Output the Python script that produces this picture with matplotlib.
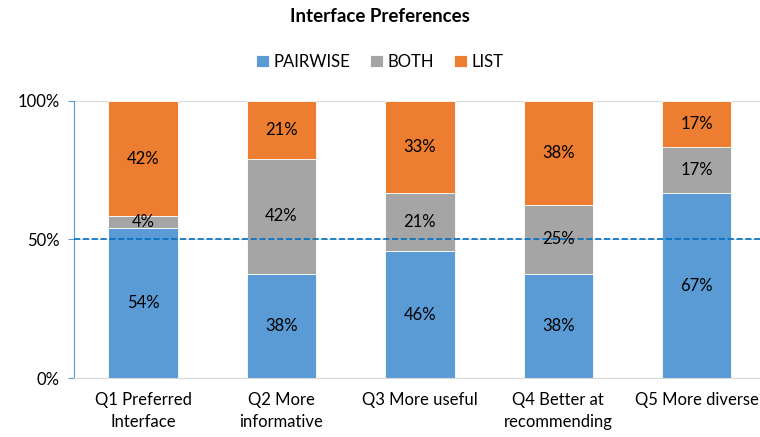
import numpy as np
import matplotlib.pyplot as plt
from matplotlib.ticker import PercentFormatter

# responses per question (24 participants)
questions = ['Q1 Preferred\nInterface', 'Q2 More\ninformative', 'Q3 More useful',
             'Q4 Better at\nrecommending', 'Q5 More diverse']
pairwise = [13, 9, 11, 9, 16]
both = [1, 10, 5, 6, 4]
listpref = [10, 5, 8, 9, 4]
series_names = ['PAIRWISE', 'BOTH', 'LIST']
colors = ['#5B9BD5', '#A5A5A5', '#ED7D31']

plt.rcParams['font.family'] = ['Lato', 'DejaVu Sans']

data = np.array([pairwise, both, listpref], dtype=float)
pct = data / data.sum(axis=0) * 100

fig = plt.figure(figsize=(7.6, 4.37), dpi=100)
ax = fig.add_axes([0.097, 0.135, 0.911, 0.634])

x = np.arange(len(questions))
bottom = np.zeros(len(questions))
for vals, name, c in zip(pct, series_names, colors):
    ax.bar(x, vals, bottom=bottom, width=0.5, color=c, label=name,
           edgecolor='white', linewidth=0.6, zorder=2)
    for xi, b, v in zip(x, bottom, vals):
        ax.text(xi, b + v / 2, '{:.0f}%'.format(v), ha='center', va='center',
                fontsize=12, color='black', zorder=4)
    bottom += vals

ax.axhline(50, color='#0070C0', linestyle='--', linewidth=1.2, zorder=3)

ax.set_xlim(-0.5, len(questions) - 0.5)
ax.set_ylim(0, 100)
ax.set_yticks([0, 50, 100])
ax.yaxis.set_major_formatter(PercentFormatter(decimals=0))
ax.yaxis.grid(True, color='#D9D9D9', linewidth=0.8, zorder=0)
ax.set_axisbelow(True)
ax.set_xticks(x)
ax.set_xticklabels(questions, fontsize=12, linespacing=1.45)
ax.tick_params(axis='y', labelsize=12, length=4, color='#5B9BD5', pad=6)
ax.tick_params(axis='x', length=0, pad=10)

for s in ['top', 'right']:
    ax.spines[s].set_visible(False)
ax.spines['left'].set_color('#5B9BD5')
ax.spines['bottom'].set_color('#D9D9D9')

fig.text(0.5, 0.962, 'Interface Preferences', ha='center', va='center',
         fontsize=13.5, fontweight='bold')
fig.legend(loc='center', bbox_to_anchor=(0.5, 0.858), ncol=3, frameon=False,
           fontsize=12, handlelength=0.75, handleheight=0.75, handletextpad=0.3,
           columnspacing=1.2)

plt.savefig('out.png', dpi=100)
